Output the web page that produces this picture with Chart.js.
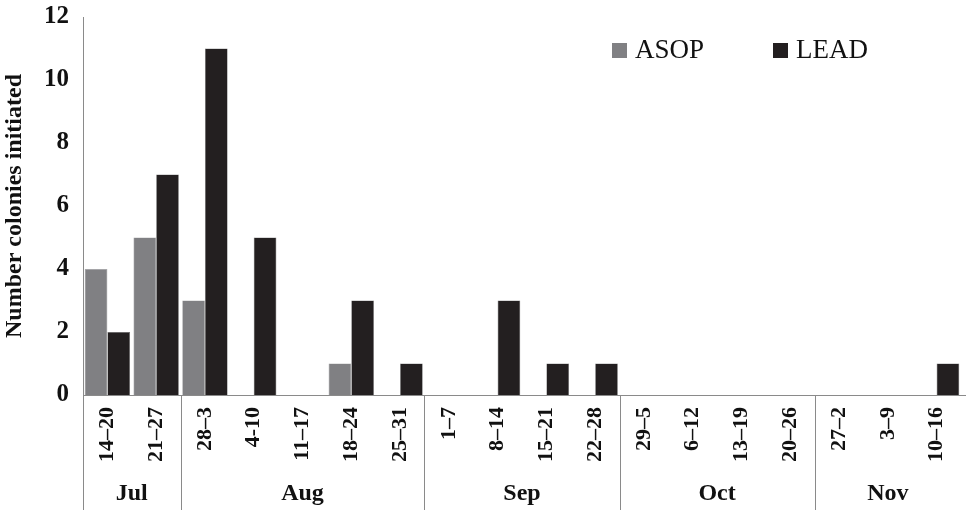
<!DOCTYPE html>
<html>
<head>
<meta charset="utf-8">
<script src="https://cdn.jsdelivr.net/npm/chart.js@4/dist/chart.umd.min.js"></script>
<style>
html,body{margin:0;padding:0;background:#fff;}
#wrap{width:966px;height:510px;position:relative;}
</style>
</head>
<body>
<div id="wrap"><canvas id="c" width="966" height="510"></canvas></div>
<script>
const weeks = ["14–20","21–27","28–3","4-10","11–17","18–24","25–31","1–7","8–14","15–21","22–28","29–5","6–12","13–19","20–26","27–2","3–9","10–16"];
const months = ["Jul","Aug","Sep","Oct","Nov"];
const monthSpans = [2,5,4,4,3];
const asop = [4,5,3,0,0,1,0,0,0,0,0,0,0,0,0,0,0,0];
const lead = [2,7,11,5,0,3,1,0,3,1,1,0,0,0,0,0,0,1];
const yTicks = [0,2,4,6,8,10,12];

const SERIF = "'Liberation Serif','Times New Roman',serif";
const GREY = "#808083";
const DARK = "#231f20";
const LINE = "#8a8a8a";

const groupPlugin = {
  id: 'groups',
  afterDraw(chart) {
    const ctx = chart.ctx;
    const x = chart.scales.x;
    const area = chart.chartArea;
    const half = (x.getPixelForValue(1) - x.getPixelForValue(0)) / 2;
    ctx.save();
    ctx.strokeStyle = LINE;
    ctx.lineWidth = 1;
    ctx.beginPath();
    ctx.moveTo(area.left, Math.round(area.bottom) + 0.5);
    ctx.lineTo(chart.width, Math.round(area.bottom) + 0.5);
    ctx.stroke();
    let idx = 0;
    ctx.fillStyle = "#111";
    ctx.font = "bold 24px " + SERIF;
    ctx.textAlign = "center";
    ctx.textBaseline = "middle";
    months.forEach((m, i) => {
      const start = x.getPixelForValue(idx) - half;
      const end = x.getPixelForValue(idx + monthSpans[i] - 1) + half;
      ctx.beginPath();
      const px = Math.round(start) + 0.5;
      ctx.moveTo(px, area.bottom);
      ctx.lineTo(px, chart.height);
      ctx.stroke();
      ctx.fillText(m, (start + end) / 2, 494);
      idx += monthSpans[i];
    });
    ctx.restore();
  }
};

const legendPlugin = {
  id: 'customLegend',
  afterDraw(chart) {
    const ctx = chart.ctx;
    ctx.save();
    ctx.font = "27px " + SERIF;
    ctx.textBaseline = "middle";
    ctx.textAlign = "left";
    const items = [{x: 612, ds: 0}, {x: 773, ds: 1}];
    items.forEach(it => {
      const ds = chart.data.datasets[it.ds];
      ctx.fillStyle = ds.backgroundColor;
      ctx.fillRect(it.x, 43, 15, 15);
      ctx.fillStyle = "#111";
      ctx.fillText(ds.label, it.x + 23, 51);
    });
    ctx.restore();
  }
};

new Chart(document.getElementById('c'), {
  type: 'bar',
  data: {
    labels: weeks,
    datasets: [
      {label: "ASOP", data: asop, backgroundColor: GREY, borderColor: "#9a9a9c", borderWidth: 0.6},
      {label: "LEAD", data: lead, backgroundColor: DARK, borderColor: "#6a6a6a", borderWidth: 0.6}
    ]
  },
  options: {
    responsive: false,
    animation: false,
    devicePixelRatio: 1,
    layout: {padding: {top: 0, right: 5, left: 0, bottom: 0}},
    categoryPercentage: 0.93,
    barPercentage: 1.0,
    plugins: {legend: {display: false}, tooltip: {enabled: false}},
    scales: {
      x: {
        grid: {display: false, drawTicks: false},
        border: {display: true, color: LINE, width: 1},
        ticks: {
          autoSkip: false, minRotation: 90, maxRotation: 90,
          padding: 12, color: "#111",
          font: {family: SERIF, size: 22, weight: 'bold'}
        },
        afterFit(s) { s.height = 115; s.paddingLeft = 0; s.paddingRight = 0; }
      },
      y: {
        min: 0, max: 12,
        grid: {display: false, drawTicks: false},
        border: {display: true, color: LINE, width: 1},
        afterBuildTicks(s) { s.ticks = yTicks.map(v => ({value: v})); },
        ticks: {
          padding: 14, color: "#111",
          font: {family: SERIF, size: 25, weight: 'bold'}
        },
        title: {
          display: true, text: "Number colonies initiated", color: "#111",
          padding: {top: 0, bottom: 0},
          font: {family: SERIF, size: 24, weight: 'bold'}
        },
        afterFit(s) { s.width = 83; s.paddingTop = 17; s.paddingBottom = 0; }
      }
    }
  },
  plugins: [groupPlugin, legendPlugin]
});
</script>
</body>
</html>
